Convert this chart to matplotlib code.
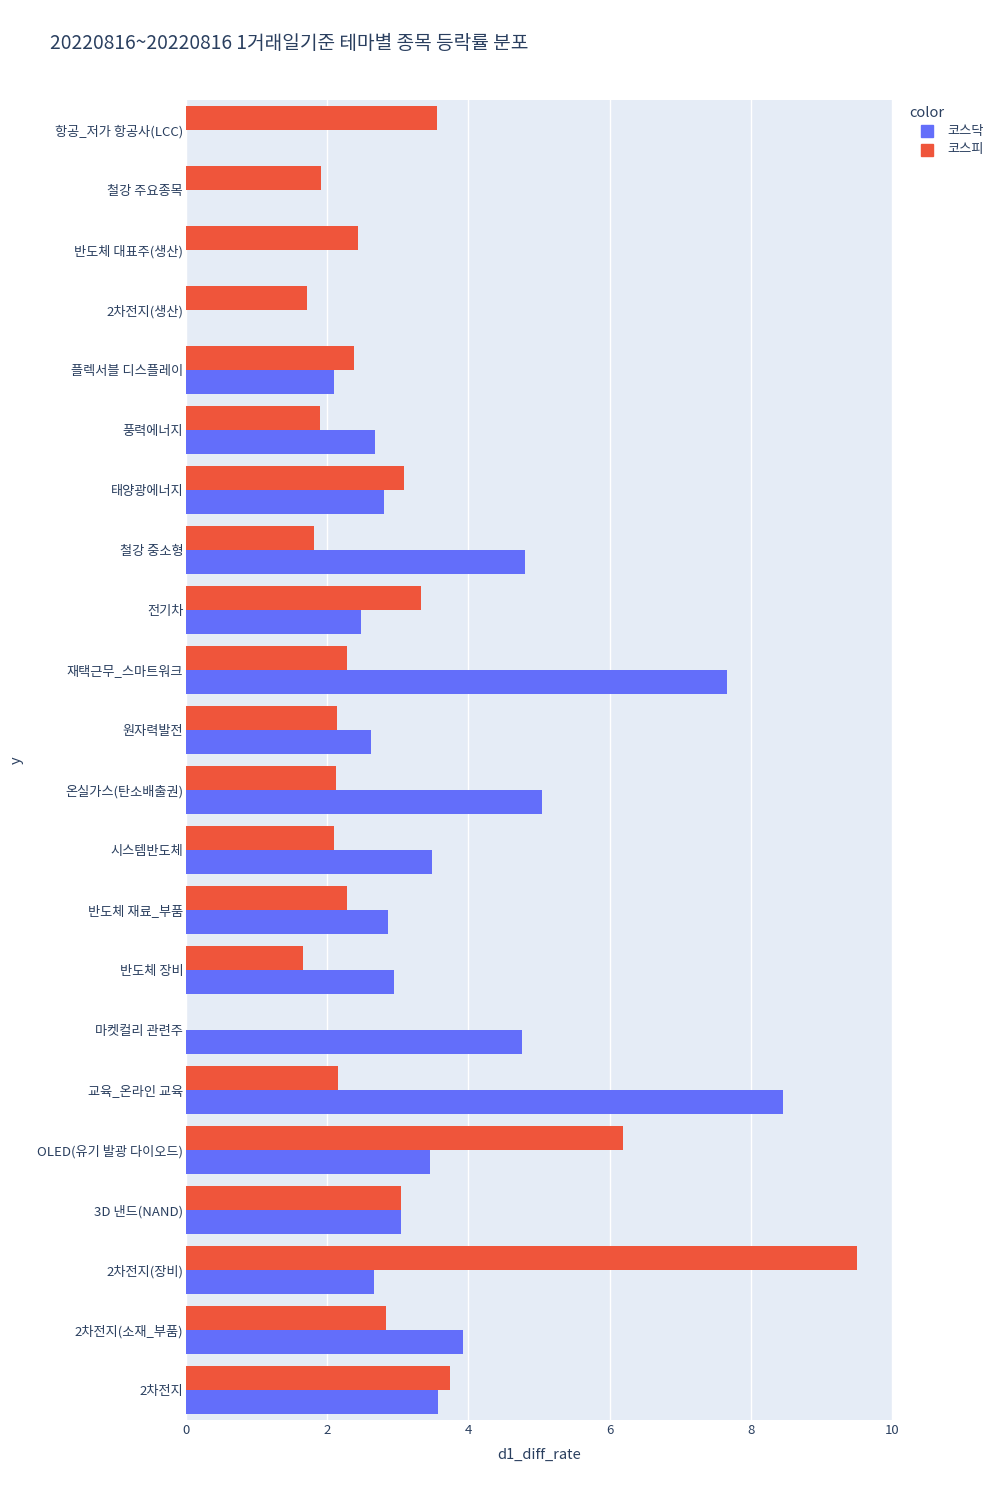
import numpy as np
import matplotlib.pyplot as plt
from matplotlib.patches import Rectangle

plt.rcParams['font.family'] = ['Noto Sans CJK KR', 'DejaVu Sans']

# categories from bottom to top (plotly order)
themes = ['2차전지', '2차전지(소재_부품)', '2차전지(장비)', '3D 낸드(NAND)',
          'OLED(유기 발광 다이오드)', '교육_온라인 교육', '마켓컬리 관련주', '반도체 장비',
          '반도체 재료_부품', '시스템반도체', '온실가스(탄소배출권)', '원자력발전',
          '재택근무_스마트워크', '전기차', '철강 중소형', '태양광에너지', '풍력에너지',
          '플렉서블 디스플레이', '2차전지(생산)', '반도체 대표주(생산)', '철강 주요종목',
          '항공_저가 항공사(LCC)']
kosdaq = [3.57, 3.92, 2.66, 3.05, 3.46, 8.46, 4.76, 2.95, 2.86, 3.48, 5.04, 2.62,
          7.66, 2.48, 4.80, 2.80, 2.68, 2.10, np.nan, np.nan, np.nan, np.nan]
kospi = [3.74, 2.83, 9.50, 3.05, 6.19, 2.15, np.nan, 1.66, 2.28, 2.10, 2.12, 2.14,
         2.28, 3.33, 1.81, 3.09, 1.90, 2.38, 1.71, 2.44, 1.91, 3.56]
legend_names = ['코스닥', '코스피']

c_kosdaq = '#636EFA'
c_kospi = '#EF553B'
txt = '#2a3f5f'

fig = plt.figure(figsize=(10, 15), dpi=100)
ax = fig.add_axes([0.186, 0.0533, 0.706, 0.88])
ax.set_facecolor('#E5ECF6')

y = np.arange(len(themes))
ax.barh(y - 0.2, kosdaq, height=0.4, color=c_kosdaq, zorder=3)
ax.barh(y + 0.2, kospi, height=0.4, color=c_kospi, zorder=3)

ax.set_xlim(0, 10)
ax.set_ylim(-0.5, len(themes) - 0.5)
ax.set_xticks([0, 2, 4, 6, 8, 10])
ax.set_yticks(y)
ax.set_yticklabels(themes)
ax.tick_params(axis='both', length=0, labelsize=9.5, colors=txt)
ax.tick_params(axis='y', pad=2)
ax.tick_params(axis='x', pad=3)
ax.grid(axis='x', color='white', lw=1, zorder=0)
ax.set_axisbelow(True)
for s in ax.spines.values():
    s.set_visible(False)

ax.set_xlabel('d1_diff_rate', fontsize=10.5, color=txt, labelpad=8)
fig.text(0.01, 0.493, 'y', rotation=90, fontsize=10.5, color=txt, va='center', ha='left')

fig.text(0.05, 0.971, '20220816~20220816 1거래일기준 테마별 종목 등락률 분포',
         fontsize=13.8, color=txt, va='center', ha='left')

# legend drawn by hand to match plotly placement
fig.text(0.909, 1 - 113 / 1500, 'color', fontsize=10.5, color=txt, va='center', ha='left')
for i, (name, col) in enumerate(zip(legend_names, [c_kosdaq, c_kospi])):
    yc = 1 - (131 + 19 * i) / 1500
    fig.patches.append(Rectangle((0.921, yc - 6 / 1500), 0.012, 12 / 1500,
                                 transform=fig.transFigure, color=col))
    fig.text(0.947, yc, name, fontsize=9.5, color=txt, va='center', ha='left')

fig.savefig('out.png', dpi=100, facecolor='white')
